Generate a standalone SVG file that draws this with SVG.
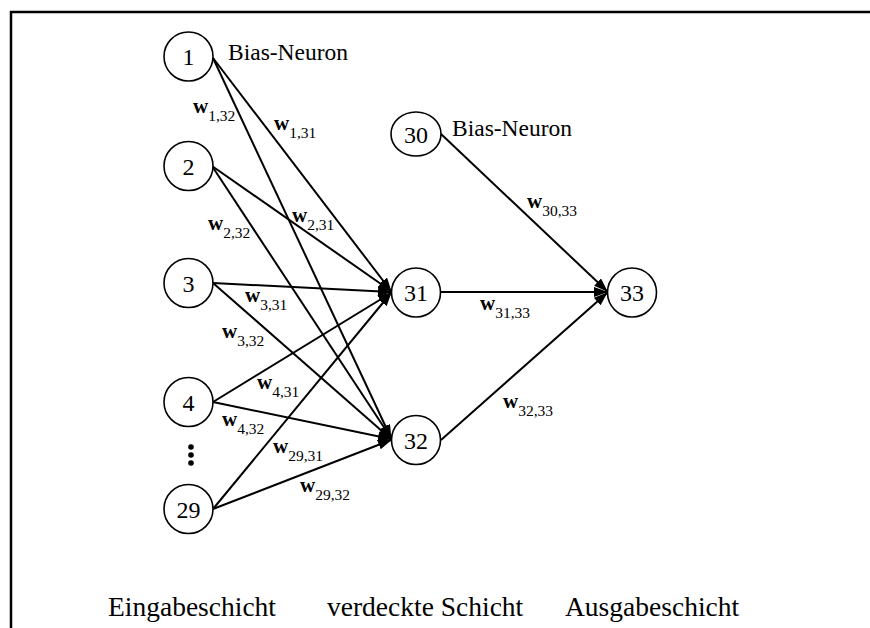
<svg xmlns="http://www.w3.org/2000/svg" width="870" height="628" viewBox="0 0 870 628">
  <style>
    text { font-family: "Times New Roman", "Liberation Serif", Tinos, "DejaVu Serif", serif; fill: #000; }
    .node circle, .node ellipse { fill: #fff; stroke: #000; stroke-width: 1.6; }
    .num { font-size: 24px; text-anchor: middle; }
    .lbl { font-size: 23.5px; }
    .layer { font-size: 27.5px; }
    .w { font-size: 21px; font-weight: bold; }
    .sub { font-size: 15.5px; font-weight: normal; }
    .edges line { stroke: #000; stroke-width: 2; marker-end: url(#arrow); }
  </style>
  <defs>
    <marker id="arrow" markerUnits="userSpaceOnUse" markerWidth="14" markerHeight="12" refX="13" refY="5" orient="auto">
      <path d="M0,0 L14,5 L0,10 Z" fill="#000"/>
    </marker>
  </defs>

  <!-- frame -->
  <path d="M11,628 L11,12 L870,12" fill="none" stroke="#000" stroke-width="2.5"/>

  <!-- connectors -->
  <g class="edges" id="edges">
    <line x1="213" y1="58" x2="391" y2="291"/>
    <line x1="213" y1="58" x2="391" y2="438"/>
    <line x1="212" y1="166" x2="391" y2="291"/>
    <line x1="212" y1="166" x2="391" y2="438"/>
    <line x1="213" y1="283" x2="391" y2="292"/>
    <line x1="213" y1="283" x2="391" y2="439"/>
    <line x1="213" y1="402" x2="391" y2="293"/>
    <line x1="213" y1="402" x2="391" y2="439"/>
    <line x1="213" y1="509" x2="391" y2="293"/>
    <line x1="213" y1="509" x2="391" y2="440"/>
    <line x1="441" y1="134" x2="607" y2="291"/>
    <line x1="441" y1="292" x2="607" y2="292"/>
    <line x1="441" y1="440" x2="607" y2="293"/>
  </g>

  <!-- weights -->
  <g id="weights">
    <text class="w" x="193" y="113">w<tspan class="sub" dy="7.5">1,32</tspan></text>
    <text class="w" x="274" y="130">w<tspan class="sub" dy="7.5">1,31</tspan></text>
    <text class="w" x="292" y="222">w<tspan class="sub" dy="7.5">2,31</tspan></text>
    <text class="w" x="208" y="230">w<tspan class="sub" dy="7.5">2,32</tspan></text>
    <text class="w" x="245" y="302">w<tspan class="sub" dy="7.5">3,31</tspan></text>
    <text class="w" x="222" y="338">w<tspan class="sub" dy="7.5">3,32</tspan></text>
    <text class="w" x="257" y="389">w<tspan class="sub" dy="7.5">4,31</tspan></text>
    <text class="w" x="222" y="426">w<tspan class="sub" dy="7.5">4,32</tspan></text>
    <text class="w" x="273" y="453">w<tspan class="sub" dy="7.5">29,31</tspan></text>
    <text class="w" x="300" y="492">w<tspan class="sub" dy="7.5">29,32</tspan></text>
    <text class="w" x="527" y="208">w<tspan class="sub" dy="7.5">30,33</tspan></text>
    <text class="w" x="480" y="310">w<tspan class="sub" dy="7.5">31,33</tspan></text>
    <text class="w" x="503" y="408">w<tspan class="sub" dy="7.5">32,33</tspan></text>
  </g>

  <!-- input layer -->
  <g class="node" id="n1"><circle cx="188.5" cy="56.5" r="24.5"/><text class="num" x="188.5" y="65">1</text></g>
  <g class="node" id="n2"><circle cx="188.5" cy="166" r="24.5"/><text class="num" x="188.5" y="174.5">2</text></g>
  <g class="node" id="n3"><circle cx="188.5" cy="283" r="24.5"/><text class="num" x="188.5" y="291.5">3</text></g>
  <g class="node" id="n4"><circle cx="188.5" cy="402" r="24.5"/><text class="num" x="188.5" y="410.5">4</text></g>
  <g class="node" id="n29"><circle cx="188.5" cy="509" r="24.5"/><text class="num" x="188.5" y="517.5">29</text></g>
  <g id="ellipsis" fill="#000">
    <circle cx="191" cy="447" r="2.8"/>
    <circle cx="191" cy="455" r="2.8"/>
    <circle cx="191" cy="463" r="2.8"/>
  </g>

  <!-- hidden layer -->
  <g class="node" id="n30"><ellipse cx="416" cy="134" rx="25" ry="22"/><text class="num" x="416" y="142.5">30</text></g>
  <g class="node" id="n31"><circle cx="416" cy="292.5" r="24.5"/><text class="num" x="416" y="301">31</text></g>
  <g class="node" id="n32"><circle cx="416" cy="440" r="24.5"/><text class="num" x="416" y="448.5">32</text></g>

  <!-- output layer -->
  <g class="node" id="n33"><circle cx="632" cy="292.5" r="24.5"/><text class="num" x="632" y="301">33</text></g>

  <!-- annotations -->
  <text class="lbl" x="228" y="60">Bias-Neuron</text>
  <text class="lbl" x="452" y="136">Bias-Neuron</text>
  <text class="layer" x="108" y="616">Eingabeschicht</text>
  <text class="layer" x="327" y="616">verdeckte Schicht</text>
  <text class="layer" x="565" y="616">Ausgabeschicht</text>
</svg>
